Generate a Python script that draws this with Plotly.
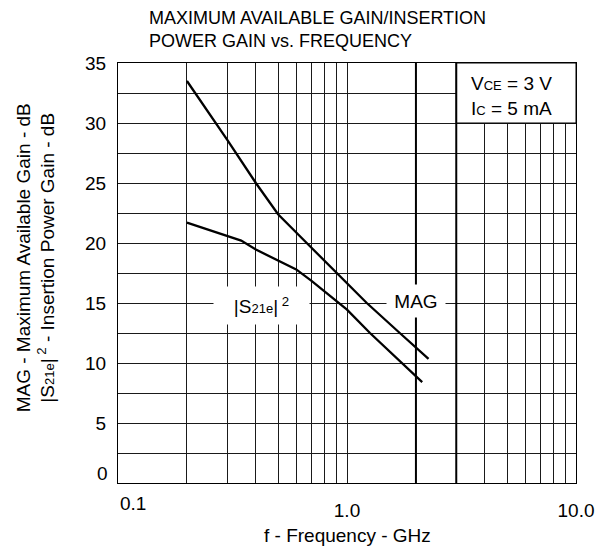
import math
import plotly.graph_objects as go

# ---- data ----
freq_mag = [0.2, 0.3, 0.4, 0.5, 0.667, 0.9, 1.22, 1.7, 2.0, 2.27]
mag_db = [33.5, 28.6, 25.0, 22.4, 20.0, 17.5, 15.0, 12.5, 11.3, 10.35]

freq_s21 = [0.2, 0.3, 0.345, 0.4, 0.5, 0.6, 0.7, 0.93, 1.0, 1.26, 2.0, 2.13]
s21_db = [21.7, 20.55, 20.2, 19.45, 18.55, 17.8, 16.85, 15.0, 14.45, 12.5, 8.9, 8.4]

x_grid = [0.1, 0.2, 0.3, 0.4, 0.5, 0.6, 0.7, 0.8, 0.9,
          1, 2, 3, 4, 5, 6, 7, 8, 9, 10]
x_labels = {1: "1.0", 10: "10.0"}
y_grid = [0, 2.5, 5, 7.5, 10, 12.5, 15, 17.5, 20, 22.5, 25, 27.5, 30, 32.5, 35]
y_labels = {5: "5", 10: "10", 15: "15", 20: "20", 25: "25", 30: "30", 35: "35"}
thick_freqs = [2.0, 3.0]
cond_box_f = [3.0, 10.0]
cond_box_db = [30.0, 35.0]

FONT = "Liberation Sans, Arial, Helvetica, sans-serif"
FS = 19

fig = go.Figure()

# white box for the bias conditions
fig.add_trace(go.Scatter(
    x=[cond_box_f[0], cond_box_f[1], cond_box_f[1], cond_box_f[0], cond_box_f[0]],
    y=[cond_box_db[0], cond_box_db[0], cond_box_db[1], cond_box_db[1], cond_box_db[0]],
    mode="lines", fill="toself", fillcolor="white",
    line=dict(color="black", width=1), hoverinfo="skip", showlegend=False))

# thick reference grid lines
for f in thick_freqs:
    fig.add_trace(go.Scatter(x=[f, f], y=[y_grid[0], y_grid[-1]], mode="lines",
                             line=dict(color="black", width=2),
                             hoverinfo="skip", showlegend=False))

fig.add_trace(go.Scatter(x=freq_mag, y=mag_db, mode="lines",
                         line=dict(color="black", width=2.3), name="MAG",
                         showlegend=False))
fig.add_trace(go.Scatter(x=freq_s21, y=s21_db, mode="lines",
                         line=dict(color="black", width=2.3), name="|S21e|2",
                         showlegend=False))

small = "<span style='font-size:13px'>{}</span>"

annotations = [
    # title
    dict(xref="paper", yref="paper", x=(147 - 118) / 458, y=1, xanchor="left",
         yanchor="bottom", yshift=10, align="left", showarrow=False,
         text="MAXIMUM AVAILABLE GAIN/INSERTION<br>POWER GAIN vs. FREQUENCY",
         font=dict(size=18)),
    # bias conditions
    dict(xref="x", yref="y", x=math.log10(cond_box_f[0]), y=32.25, xanchor="left",
         xshift=13, yanchor="middle", align="left", showarrow=False,
         text="V" + small.format("CE") + " = 3 V<br>I" + small.format("C") + " = 5 mA",
         font=dict(size=FS)),
    # curve labels
    dict(xref="x", yref="y", x=math.log10(2.0), y=15.2, showarrow=False,
         text="MAG", bgcolor="white", width=56, height=30, font=dict(size=FS)),
    dict(xref="x", yref="y", x=math.log10(0.4233), y=14.8, showarrow=False,
         text="|S" + small.format("21e") + "|<sup> 2</sup>", bgcolor="white",
         width=93, height=35, font=dict(size=FS)),
    # corner tick labels
    dict(xref="x", yref="paper", x=math.log10(x_grid[0]), y=0, xanchor="left",
         yanchor="top", yshift=-8, showarrow=False, text="0.1", font=dict(size=FS)),
    dict(xref="paper", yref="y", x=0, y=y_grid[0], xanchor="right", yanchor="middle",
         xshift=-8, yshift=10, showarrow=False, text="0", font=dict(size=FS)),
    # axis titles
    dict(xref="paper", yref="paper", x=0.5, y=0, yanchor="top", yshift=-40,
         showarrow=False, text="f - Frequency - GHz", font=dict(size=FS)),
    dict(xref="paper", yref="paper", x=0, y=0.535, xanchor="center", yanchor="middle",
         xshift=-82, textangle=-90, showarrow=False,
         text="MAG - Maximum Available Gain - dB<br>|S" + small.format("21e")
              + "|<sup> 2</sup> - Insertion Power Gain - dB",
         font=dict(size=FS)),
]

# page body adds an 8px margin, so the figure is offset accordingly
fig.update_layout(
    width=600, height=540,
    margin=dict(l=110, r=32, t=55, b=65),
    paper_bgcolor="white", plot_bgcolor="white",
    font=dict(family=FONT, color="black", size=FS),
    showlegend=False,
    annotations=annotations,
    xaxis=dict(type="log", range=[-1, 1], tickvals=x_grid,
               ticktext=[x_labels.get(v, "") for v in x_grid],
               showgrid=True, gridcolor="#1a1a1a", gridwidth=1,
               showline=True, mirror=True, linecolor="black", linewidth=1.3,
               ticks="outside", ticklen=10, tickcolor="rgba(0,0,0,0)",
               zeroline=False, tickfont=dict(size=FS)),
    yaxis=dict(range=[0, 35], tickvals=y_grid,
               ticktext=[y_labels.get(v, "") for v in y_grid],
               showgrid=True, gridcolor="#1a1a1a", gridwidth=1,
               showline=True, mirror=True, linecolor="black", linewidth=1.3,
               ticks="outside", ticklen=7, tickcolor="rgba(0,0,0,0)",
               zeroline=False, tickfont=dict(size=FS)),
)

fig.write_html("out.html")
